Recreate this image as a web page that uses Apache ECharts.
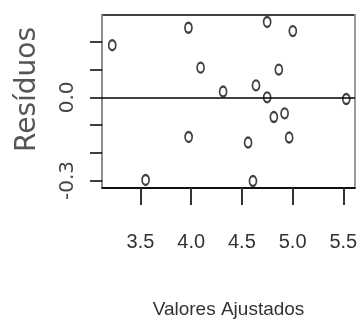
<!DOCTYPE html>
<html>
<head>
<meta charset="utf-8">
<script src="https://cdn.jsdelivr.net/npm/echarts@6/dist/echarts.min.js"></script>
<style>html,body{margin:0;padding:0;background:#fff}#c{width:363px;height:323px}</style>
</head>
<body>
<div id="c"></div>
<script>
// Fitted values (x) and residuals (y)
var fittedValues = [3.222, 3.973, 4.749, 5.002, 4.093, 4.864, 4.315, 4.639, 4.749, 5.529, 4.815, 4.921, 3.975, 4.561, 4.966, 3.551, 4.609];
var residuals    = [0.188, 0.251, 0.272, 0.239, 0.107, 0.100, 0.021, 0.043, 0.000, -0.006, -0.071, -0.058, -0.143, -0.163, -0.145, -0.298, -0.302];
var xTicks = [3.5, 4.0, 4.5, 5.0, 5.5];
var yTicks = [-0.3, -0.2, -0.1, 0.0, 0.1, 0.2];
var yTickLabels = [-0.3, 0.0];
var xTitle = 'Valores Ajustados';
var yTitle = 'Resíduos';

var points = fittedValues.map(function (x, i) { return [x, residuals[i]]; });

var chart = echarts.init(document.getElementById('c'));
chart.setOption({
  animation: false,
  backgroundColor: '#fff',
  grid: { left: 102, right: 8, top: 15, bottom: 135, outerBoundsMode: 'none',
    show: true, borderColor: '#000', borderWidth: 1.5, backgroundColor: 'transparent' },
  xAxis: [{
    type: 'value', min: 3.121, max: 5.615,
    splitLine: { show: false },
    axisLine: { show: true, onZero: false, lineStyle: { color: '#000', width: 1.5 } },
    axisTick: { show: true, inside: false, length: 17, customValues: xTicks, lineStyle: { color: '#333', width: 2 } },
    axisLabel: { customValues: xTicks, margin: 44, color: '#333', fontSize: 20,
      fontFamily: '"Liberation Sans", Arial, sans-serif',
      formatter: function (v) { return v.toFixed(1); } },
    name: xTitle, nameLocation: 'middle', nameGap: 112,
    nameTextStyle: { color: '#333', fontSize: 19, fontFamily: '"Liberation Sans", Arial, sans-serif' }
  }],
  yAxis: [{
    type: 'value', min: -0.327, max: 0.297,
    splitLine: { show: false },
    axisLine: { show: true, onZero: false, lineStyle: { color: '#aaa', width: 1.5 } },
    axisTick: { show: true, length: 12, customValues: yTicks, lineStyle: { color: '#000', width: 1.5 } },
    axisLabel: { customValues: yTickLabels, rotate: 90, margin: 24, color: '#444', fontSize: 20,
      fontFamily: '"DejaVu Sans", sans-serif',
      formatter: function (v) { return (Math.abs(v) < 1e-9 ? 0 : v).toFixed(1); } },
    name: yTitle, nameLocation: 'middle', nameGap: 60,
    nameTextStyle: { color: '#555', fontSize: 28, fontFamily: '"DejaVu Sans", sans-serif', padding: [0, 0, 0, 24] }
  }, {
    type: 'value', position: 'right', min: -0.327, max: 0.297,
    splitLine: { show: false }, axisTick: { show: false }, axisLabel: { show: false },
    axisLine: { show: true, onZero: false, lineStyle: { color: '#bbb', width: 1.5 } }
  }],
  series: [{
    type: 'scatter',
    xAxisIndex: 0, yAxisIndex: 0,
    data: points,
    symbol: 'emptyCircle',
    symbolSize: [7, 10],
    itemStyle: { color: '#111', borderColor: '#111', borderWidth: 1.4 },
    markLine: {
      silent: true, symbol: ['none', 'none'], label: { show: false },
      lineStyle: { color: '#000', width: 1.5, type: 'solid' },
      data: [{ yAxis: 0 }]
    }
  }]
});
</script>
</body>
</html>
